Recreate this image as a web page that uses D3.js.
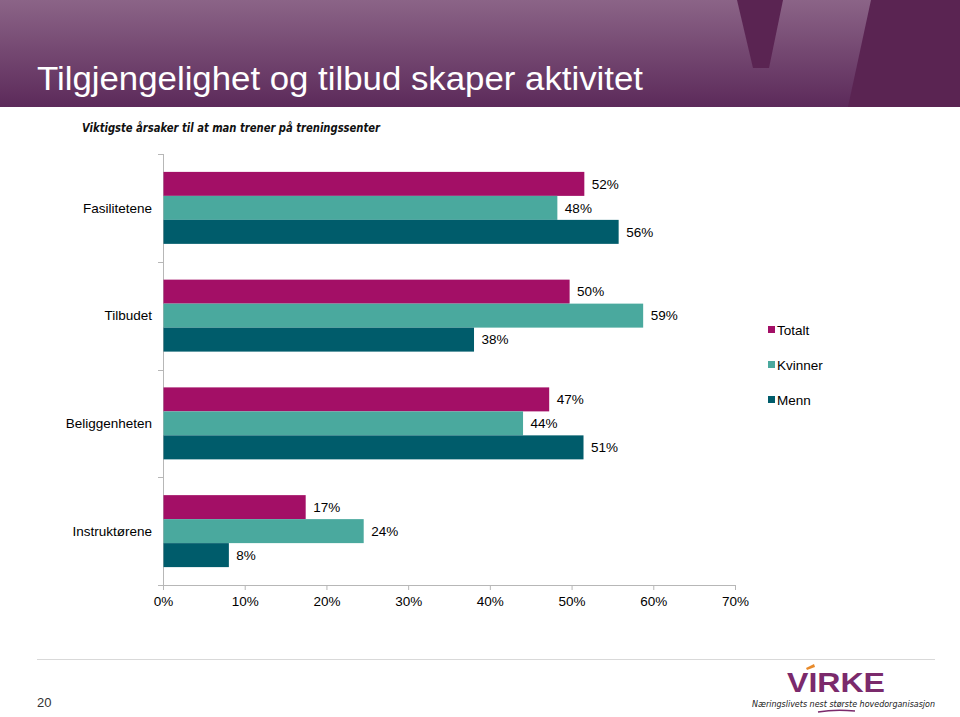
<!DOCTYPE html>
<html><head><meta charset="utf-8">
<script src="https://cdn.jsdelivr.net/npm/d3@7"></script>
<style>body{margin:0;background:#fff}svg{display:block}</style>
</head><body>
<script>
const categories = ["Fasilitetene", "Tilbudet", "Beliggenheten", "Instruktørene"];
const seriesNames = ["Totalt", "Kvinner", "Menn"];
const totalt  = [51.5, 49.7, 47.2, 17.4];
const kvinner = [48.2, 58.7, 44.0, 24.5];
const menn    = [55.7, 38.0, 51.4, 8.0];
const labelsTotalt  = ["52%", "50%", "47%", "17%"];
const labelsKvinner = ["48%", "59%", "44%", "24%"];
const labelsMenn    = ["56%", "38%", "51%", "8%"];
const xTicks = [0, 10, 20, 30, 40, 50, 60, 70];
const colors = ["#a30f66", "#4aa99e", "#005c6b"];

const W = 960, H = 717;
const svg = d3.select("body").append("svg").attr("width", W).attr("height", H);
const font = "'Liberation Sans', Arial, sans-serif";

// Header
const defs = svg.append("defs");
const g = defs.append("linearGradient").attr("id","hdr").attr("x1",0).attr("y1",0).attr("x2",0).attr("y2",1);
g.append("stop").attr("offset","0%").attr("stop-color","#8b6487");
g.append("stop").attr("offset","100%").attr("stop-color","#5c2a5a");
svg.append("rect").attr("x",0).attr("y",0).attr("width",W).attr("height",107).attr("fill","url(#hdr)");
svg.append("path").attr("d","M737,0 L783,0 L769,68 L753,68 Z").attr("fill","#5a2452");
svg.append("path").attr("d","M871,0 L960,0 L960,107 L848,107 Z").attr("fill","#5a2452");
svg.append("text").attr("x",37).attr("y",90).attr("fill","#fff")
  .attr("font-family",font).attr("font-size",33)
  .attr("textLength",606).attr("lengthAdjust","spacingAndGlyphs")
  .text("Tilgjengelighet og tilbud skaper aktivitet");

// Subtitle
svg.append("text").attr("x",82).attr("y",132).attr("fill","#111")
  .attr("font-family","'DejaVu Sans', sans-serif").attr("font-weight","bold").attr("font-style","italic")
  .attr("font-size",13).attr("textLength",298).attr("lengthAdjust","spacingAndGlyphs")
  .text("Viktigste årsaker til at man trener på treningssenter");

// Scales
const x = d3.scaleLinear().domain([0,70]).range([163,735]);
const y = d3.scaleBand().domain(categories).range([154,585]).paddingInner(0.332).paddingOuter(0.166);
const ySub = d3.scaleBand().domain(seriesNames).range([0,y.bandwidth()]).padding(0);

const data = categories.map((c,i)=>({cat:c, vals:[
  {s:"Totalt", v:totalt[i], l:labelsTotalt[i]},
  {s:"Kvinner", v:kvinner[i], l:labelsKvinner[i]},
  {s:"Menn", v:menn[i], l:labelsMenn[i]}]}));

const color = d3.scaleOrdinal().domain(seriesNames).range(colors);

// Axes
const axisColor = "#b7b7b7";
const xAxis = svg.append("g").attr("transform","translate(0,585)")
  .call(d3.axisBottom(x).tickValues(xTicks).tickFormat(d=>d+"%").tickSize(5).tickSizeOuter(0));
xAxis.select(".domain").attr("stroke",axisColor).attr("d","M158,0.5H735");
xAxis.selectAll(".tick line").attr("stroke",axisColor);
xAxis.selectAll(".tick text").attr("font-family",font).attr("font-size",13.5).attr("fill","#000").attr("dy","0.95em");

// y axis line and boundary ticks
const yAxisG = svg.append("g");
yAxisG.append("line").attr("x1",163.5).attr("x2",163.5).attr("y1",y.range()[0]).attr("y2",585).attr("stroke",axisColor);
const step = y.step();
const bounds = d3.range(categories.length+1).map(i=>y.range()[0]+i*step);
yAxisG.selectAll("line.bt").data(bounds).join("line").attr("class","bt")
  .attr("x1",158).attr("x2",163).attr("y1",d=>Math.round(d)+0.5).attr("y2",d=>Math.round(d)+0.5).attr("stroke",axisColor);
yAxisG.selectAll("text").data(categories).join("text")
  .attr("x",152).attr("y",d=>y(d)+y.bandwidth()/2).attr("dy","0.35em").attr("text-anchor","end")
  .attr("font-family",font).attr("font-size",13.5).attr("fill","#000").text(d=>d);

// Bars
const grp = svg.append("g").selectAll("g").data(data).join("g")
  .attr("transform",d=>`translate(0,${y(d.cat)})`);
grp.selectAll("rect").data(d=>d.vals).join("rect")
  .attr("x",x(0)+0.5).attr("y",d=>ySub(d.s)).attr("height",ySub.bandwidth())
  .attr("width",d=>x(d.v)-x(0)).attr("fill",d=>color(d.s));
grp.selectAll("text").data(d=>d.vals).join("text")
  .attr("x",d=>x(d.v)+8).attr("y",d=>ySub(d.s)+ySub.bandwidth()/2).attr("dy","0.35em")
  .attr("font-family",font).attr("font-size",13.5).attr("fill","#000").text(d=>d.l);

// Legend
const lg = svg.append("g").selectAll("g").data(seriesNames).join("g")
  .attr("transform",(d,i)=>`translate(768,${330+i*35})`);
lg.append("rect").attr("x",0).attr("y",-4).attr("width",7).attr("height",7).attr("fill",d=>color(d));
lg.append("text").attr("x",9).attr("y",0).attr("dy","0.35em").attr("font-family",font).attr("font-size",13.5).attr("fill","#000").text(d=>d);

// Footer
svg.append("line").attr("x1",37).attr("x2",935).attr("y1",659.5).attr("y2",659.5).attr("stroke","#d9d9d9");
svg.append("text").attr("x",37).attr("y",707).attr("font-family",font).attr("font-size",13).attr("fill","#333").text("20");
svg.append("text").attr("x",836).attr("y",692).attr("text-anchor","middle")
  .attr("font-family",font).attr("font-weight","bold").attr("font-size",28).attr("fill","#7b2a6c")
  .attr("textLength",98).attr("lengthAdjust","spacingAndGlyphs").text("VIRKE");
svg.append("path").attr("d","M806,668 L814,664 L815,667 L807,670 Z").attr("fill","#e88a2a");
svg.append("text").attr("x",752).attr("y",707)
  .attr("font-family","'DejaVu Sans', sans-serif").attr("font-style","italic").attr("font-size",9).attr("fill","#222")
  .attr("textLength",183).attr("lengthAdjust","spacingAndGlyphs").text("Næringslivets nest største hovedorganisasjon");
svg.append("path").attr("d","M818,712 Q835,709 855,711").attr("stroke","#7b2a6c").attr("stroke-width",1.5).attr("fill","none");
</script>
</body></html>
